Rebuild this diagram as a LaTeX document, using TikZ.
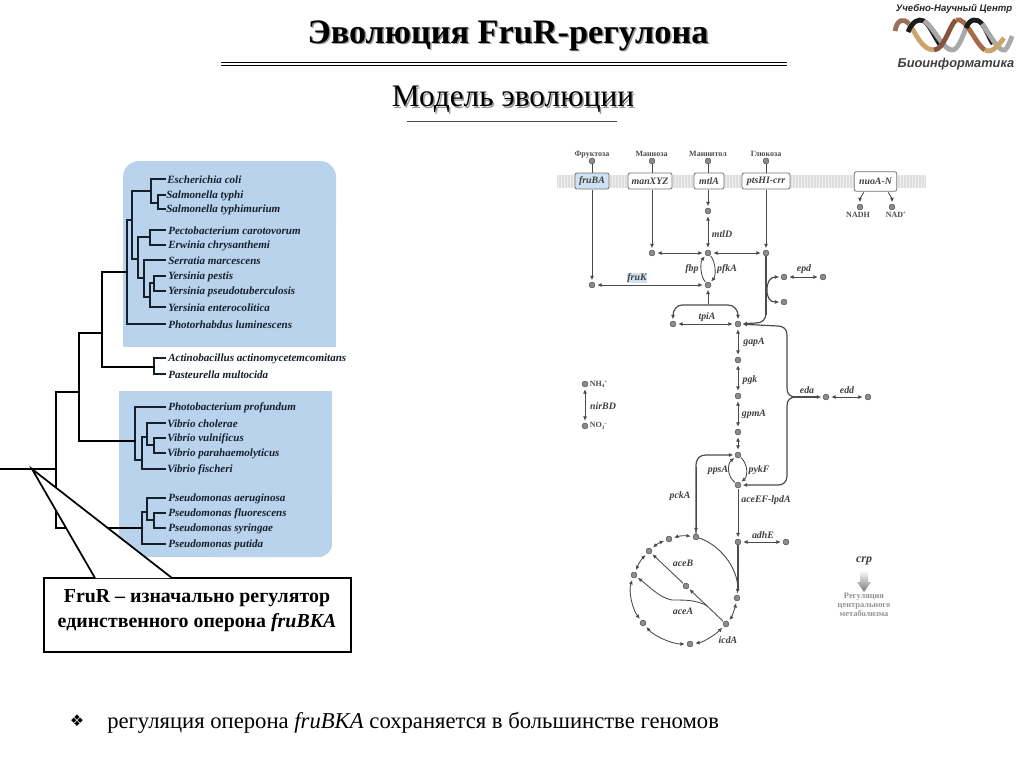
\documentclass[tikz,border=0pt]{standalone}
\usepackage{fontspec}
\setmainfont{Liberation Serif}
\newfontfamily\logofont{Liberation Sans}
\newfontfamily\symfont{DejaVu Sans}
\usetikzlibrary{arrows.meta,shapes.geometric,shadings}
\definecolor{panelblue}{HTML}{B9D3EC}
\definecolor{ink}{HTML}{16202C}
\definecolor{path}{HTML}{4A4A4A}
\definecolor{pale}{HTML}{DEDEDE}
\definecolor{paler}{HTML}{EFEFEF}
\definecolor{hilite}{HTML}{CDE2F2}
\definecolor{logotan}{HTML}{C9A66E}
\definecolor{logobrown}{HTML}{A5694C}
\definecolor{logogray}{HTML}{A9A9A9}
\definecolor{logoblack}{HTML}{1C1C1C}
\newcommand{\subsup}[2]{\raisebox{-1pt}{\fontsize{3.8}{4}\selectfont #1}\raisebox{2pt}{\fontsize{3.8}{4}\selectfont #2}}
\tikzset{
  species/.style={anchor=west,inner sep=0pt,font=\fontsize{8.3}{9}\selectfont\bfseries\itshape,text=ink},
  branch/.style={draw=ink,line width=1.2pt,line cap=rect},
  trunk/.style={draw=black,line width=0.95pt,line cap=rect},
  met/.style={circle,fill=gray!90,draw=path,line width=0.35pt,inner sep=0pt,minimum size=4.4pt},
  gene/.style={inner sep=0.5pt,font=\fontsize{7.4}{8}\selectfont\bfseries\itshape,text=black!75},
  tinylab/.style={inner sep=0pt,anchor=base,font=\fontsize{6}{7}\selectfont\bfseries,text=black!70},
  prot/.style={draw=gray!90!black,line width=0.6pt,fill=white,rounded corners=1.5pt,inner sep=0pt,font=\fontsize{7.4}{8}\selectfont\bfseries\itshape,text=black!75},
  one/.style={draw=path,line width=0.65pt,-{Latex[length=3.2pt,width=3pt]},shorten >=1.2pt,shorten <=0.6pt},
  two/.style={draw=path,line width=0.65pt,{Latex[length=3.2pt,width=3pt]}-{Latex[length=3.2pt,width=3pt]},shorten >=1.6pt,shorten <=1.6pt},
  plain/.style={draw=path,line width=0.7pt},
  heavy/.style={draw=gray!60!black,line width=0.9pt},
  heavyarrow/.style={draw=gray!60!black,line width=0.9pt,-{Latex[length=3.2pt,width=3pt]},shorten >=1.2pt},
  greylab/.style={inner sep=0pt,anchor=base,font=\fontsize{6.3}{7}\selectfont\bfseries,text=gray!85},
  strand/.style={line width=3.6pt,line cap=butt}
}
\begin{document}
\begin{tikzpicture}[x=0.75pt,y=-0.75pt]
\useasboundingbox (0,0) rectangle (1024,768);
\fill[white] (0,0) rectangle (1024,768);

% titles
\node[text=gray!80,font=\fontsize{25.7}{30}\selectfont\bfseries] (titleshade) at (509.5,37) {Эволюция FruR-регулона};
\node[font=\fontsize{25.7}{30}\selectfont\bfseries] (title) at (508,35.5) {Эволюция FruR-регулона};
\draw[line width=1.3pt] (221,62.5) -- (787,62.5);
\draw[line width=0.8pt] (221,65.5) -- (787,65.5);
\node[text=gray!80,font=\fontsize{23.5}{28}\selectfont] (subshade) at (514.5,101) {Модель эволюции};
\node[font=\fontsize{23.5}{28}\selectfont] (subtitle) at (513,99.5) {Модель эволюции};
\draw[draw=black!70,line width=0.6pt] (407,121) -- (617,121);

% logo
\node[inner sep=0pt,font=\logofont\fontsize{7.2}{8}\selectfont\bfseries\itshape,text=black!85] (logotop) at (954,8.5) {Учебно-Научный Центр};
\node[inner sep=0pt,font=\logofont\fontsize{9.6}{11}\selectfont\bfseries\itshape,text=black!75] (logobot) at (956,64.5) {Биоинформатика};
\draw[strand,draw=logobrown!70!gray] (895,31) .. controls (897,19) and (904,18) .. (909,24);
\draw[strand,draw=logotan] (909,24) .. controls (915,31) and (921,50) .. (934,50);
\draw[strand,draw=logoblack] (908,32) .. controls (912,22) and (918,18) .. (924,21) .. controls (930,25) and (935,38) .. (941,46);
\draw[strand,draw=logogray] (924,21) .. controls (934,27) and (943,50) .. (952,50) .. controls (958,50) and (962,38) .. (966,28);
\draw[strand,draw=logobrown!80!black] (934,50) .. controls (944,50) and (950,24) .. (956,20);
\draw[strand,draw=logobrown] (956,20) .. controls (966,16) and (975,44) .. (985,50);
\draw[strand,draw=logoblack] (966,28) .. controls (970,18) and (977,18) .. (982,24) .. controls (987,30) and (989,38) .. (993,44);
\draw[strand,draw=logogray] (982,24) .. controls (990,34) and (998,52) .. (1005,50) .. controls (1008,47) and (1010,42) .. (1012,36);
\draw[strand,draw=logotan] (985,50) .. controls (993,54) and (999,44) .. (1004,38);

% blue panels
\fill[panelblue,rounded corners=12pt] (123,161) rectangle (336,240);
\fill[panelblue] (123,180) rectangle (336,347);
\fill[panelblue,rounded corners=10pt] (200,480) rectangle (332,557);
\fill[panelblue] (119,391) rectangle (332,510);
\fill[panelblue] (119,510) rectangle (290,557);

% species
\node[species] (s1) at (167,180) {Escherichia coli};
\node[species] (s2) at (166,196) {Salmonella typhi};
\node[species] (s3) at (166,210) {Salmonella typhimurium};
\node[species] (s4) at (168,231) {Pectobacterium carotovorum};
\node[species] (s5) at (168,246) {Erwinia chrysanthemi};
\node[species] (s6) at (168,261) {Serratia marcescens};
\node[species] (s7) at (168,277) {Yersinia pestis};
\node[species] (s8) at (168,292) {Yersinia pseudotuberculosis};
\node[species] (s9) at (168,308) {Yersinia enterocolitica};
\node[species] (s10) at (168,325) {Photorhabdus luminescens};
\node[species] (s11) at (168,359) {Actinobacillus actinomycetemcomitans};
\node[species] (s12) at (168,375) {Pasteurella multocida};
\node[species] (s13) at (168,408) {Photobacterium profundum};
\node[species] (s14) at (167,424) {Vibrio cholerae};
\node[species] (s15) at (167,439) {Vibrio vulnificus};
\node[species] (s16) at (167,454) {Vibrio parahaemolyticus};
\node[species] (s17) at (167,470) {Vibrio fischeri};
\node[species] (s18) at (168,499) {Pseudomonas aeruginosa};
\node[species] (s19) at (168,514) {Pseudomonas fluorescens};
\node[species] (s20) at (168,529) {Pseudomonas syringae};
\node[species] (s21) at (168,545) {Pseudomonas putida};

% tree: Enterobacteria
\draw[branch] (165,179) -| (151,203) -- (158,203);
\draw[branch] (165,195) -| (158,209) -- (165,209);
\draw[branch] (132,191) -- (151,191);
\draw[branch] (132,191) -- (132,259) -- (138,259);
\draw[branch] (150,230) -- (165,230) (150,230) -- (150,245) -- (165,245);
\draw[branch] (138,237) -- (150,237) (138,237) -- (138,278) -- (144,278);
\draw[branch] (144,260) -- (165,260) (144,260) -- (144,297) -- (150,297);
\draw[branch] (150,283) -- (150,307) -- (165,307) (150,283) -- (154,283);
\draw[branch] (154,276) -- (165,276) (154,276) -- (154,291) -- (165,291);
\draw[branch] (127,220) -- (132,220) (127,220) -- (127,324) -- (165,324);
% pasteurellaceae
\draw[branch] (154,358) -- (165,358) (154,358) -- (154,374) -- (165,374);
\draw[trunk] (102,367) -- (154,367);
% vibrio
\draw[branch] (135,407) -- (165,407) (135,407) -- (135,460) -- (142,460);
\draw[branch] (142,437) -- (147,437) (142,437) -- (142,469) -- (165,469);
\draw[branch] (147,423) -- (165,423) (147,423) -- (147,445) -- (154,445);
\draw[branch] (154,438) -- (165,438) (154,438) -- (154,453) -- (165,453);
% pseudomonas
\draw[branch] (142,512) -- (147,512) (142,512) -- (142,544) -- (165,544);
\draw[branch] (147,498) -- (165,498) (147,498) -- (147,520) -- (154,520);
\draw[branch] (154,513) -- (165,513) (154,513) -- (154,528) -- (165,528);
% deep branches
\draw[trunk] (127,272) -- (102,272) -- (102,367);
\draw[trunk] (102,333) -- (79,333) -- (79,441) -- (135,441);
\draw[trunk] (79,392) -- (56,392) -- (56,528) -- (142,528);
\draw[trunk] (0,469) -- (56,469);

% callout
\node[draw=black,line width=1.3pt,fill=white,minimum width=230.25pt,minimum height=55.5pt,inner sep=0pt] (callout) at (197.5,615) {};
\coordinate (apex) at (32,469);
\coordinate (cl) at (95,578);
\coordinate (cr) at (172,578);
\fill[white] (apex) -- (cl) -- (cr) -- cycle;
\draw[line width=1.3pt,line join=miter] (cl) -- (apex) -- (cr);
\node[inner sep=0pt,font=\fontsize{14.9}{18}\selectfont\bfseries] (c1) at (197,598.5) {FruR – изначально регулятор};
\node[inner sep=0pt,font=\fontsize{14.9}{18}\selectfont\bfseries] (c2) at (197,622.5) {единственного оперона \textit{fruBKA}};

% bullet text
\node[inner sep=0pt,font=\symfont\fontsize{12}{14}\selectfont] (bull) at (77,721) {❖};
\node[anchor=west,inner sep=0pt,font=\fontsize{17}{20}\selectfont] (bullet) at (107,723) {регуляция оперона \textit{fruBKA} сохраняется в большинстве геномов};

% membrane
\fill[pale] (557,175) rectangle (926,188);
\foreach \x in {558,561,...,925} \draw[paler,line width=0.75pt] (\x,175) -- (\x,188);

% metabolites
\node[met] (mFru) at (592,161) {};
\node[met] (mMan) at (652,161) {};
\node[met] (mMtl) at (708,161) {};
\node[met] (mGlc) at (766,161) {};
\node[met] (d211) at (708,211) {};
\node[met] (d253a) at (652,253) {};
\node[met] (d253b) at (708,253) {};
\node[met] (d253c) at (766,253) {};
\node[met] (d285a) at (592,285) {};
\node[met] (d285b) at (708,285) {};
\node[met] (e1) at (784,277) {};
\node[met] (e2) at (823,277) {};
\node[met] (e3) at (784,302) {};
\node[met] (t1) at (673,324) {};
\node[met] (t2) at (738,324) {};
\node[met] (g1) at (738,360) {};
\node[met] (g2) at (738,396) {};
\node[met] (g3) at (738,432) {};
\node[met] (g4) at (738,455) {};
\node[met] (g5) at (738,485) {};
\node[met] (ed1) at (826,397) {};
\node[met] (ed2) at (868,397) {};
\node[met] (nh) at (585,384) {};
\node[met] (no) at (585,426) {};
\node[met] (a1) at (738,542) {};
\node[met] (a2) at (786,542) {};
\node[met] (c0) at (696,537) {};
\node[met] (c1a) at (669,539) {};
\node[met] (c2a) at (649,551) {};
\node[met] (c3) at (634,575) {};
\node[met] (c4) at (643,623) {};
\node[met] (c5) at (690,644) {};
\node[met] (c6) at (726,624) {};
\node[met] (c7) at (737,598) {};
\node[met] (c8) at (686,586) {};
\node[met] (n1) at (860,207) {};
\node[met] (n2) at (892,207) {};

% proteins
\node[prot,fill=hilite,minimum width=25.5pt,minimum height=12pt] (fruBA) at (592,181) {fruBA};
\node[prot,minimum width=33pt,minimum height=12pt] (manXYZ) at (650,181) {manXYZ};
\node[prot,minimum width=22.5pt,minimum height=12pt] (mtlA) at (709,181) {mtlA};
\node[prot,minimum width=36pt,minimum height=12pt] (pts) at (766,181) {ptsHI-crr};
\node[prot,minimum width=32pt,minimum height=14.5pt] (nuo) at (875.5,181.5) {nuoA-N};

% top labels
\node[tinylab] (lFru) at (592,156) {Фруктоза};
\node[tinylab] (lMan) at (651.5,156) {Манноза};
\node[tinylab] (lMtl) at (708,156) {Маннитол};
\node[tinylab] (lGlc) at (766,156) {Глюкоза};
\node[tinylab] (lNADH) at (858,217) {NADH};
\node[tinylab] (lNAD) at (896,217) {NAD\raisebox{2pt}{\fontsize{3.8}{4}\selectfont +}};

% connectors upper
\draw[plain] (mFru) -- (fruBA);
\draw[plain] (mMan) -- (manXYZ.north-|mMan);
\draw[plain] (mMtl) -- (mtlA.north-|mMtl);
\draw[plain] (mGlc) -- (pts);
\draw[one] (fruBA) -- (d285a);
\draw[one] (manXYZ.south-|d253a) -- (d253a);
\draw[one] (mtlA.south-|d211) -- (d211);
\draw[one] (pts) -- (d253c);
\draw[two] (d211) -- (d253b);
\draw[two] (d253a) -- (d253b);
\draw[two] (d253b) -- (d253c);
\draw[two] (d285a) -- (d285b);
\draw[one] (d285b) .. controls (700,276) and (700,262) .. (d253b);
\draw[one] (d253b) .. controls (716,262) and (716,276) .. (d285b);
\draw[two] (e1) -- (e2);
\draw[two] (t1) -- (t2);
\draw[two] (t2) -- (g1);
\draw[two] (g1) -- (g2);
\draw[two] (g2) -- (g3);
\draw[two] (g3) -- (g4);
\draw[two] (ed1) -- (ed2);
\draw[two] (nh) -- (no);
\draw[two] (a1) -- (a2);
\node[gene,fill=hilite] (lfruK) at (637,278) {fruK};

% nuo arcs
\draw[one] (nuo.south-|864,0) .. controls (863,195) and (860,197) .. (n1);
\draw[one] (nuo.south-|888,0) .. controls (889,195) and (892,197) .. (n2);

% tpiA brace
\coordinate (tb) at (708,305);
\draw[one] (tb) -- (d285b);
\draw[heavyarrow] (tb) -- (682,305) .. controls (677,305) and (673,310) .. (t1);
\draw[heavyarrow] (tb) -- (728,305) .. controls (734,305) and (738,310) .. (t2);
% glucose to triose
\draw[heavy] (d253c) -- (766,315);
\draw[heavyarrow] (766,312) .. controls (766,320) and (762,323) .. (756,323) -- (t2);
% epd fork
\coordinate (fk) at (767,290);
\draw[heavyarrow] (fk) .. controls (767,282) and (770,277) .. (e1);
\draw[heavyarrow] (fk) .. controls (767,298) and (770,302) .. (e3);

% eda
\coordinate (edaT) at (796,397);
\draw[heavyarrow] (edaT) -- (ed1);
\draw[heavyarrow] (edaT) .. controls (790,397) and (787,394) .. (787,388) -- (787,335) .. controls (787,329) and (783,326) .. (778,326) -- (t2);
\draw[heavyarrow] (edaT) .. controls (790,397) and (787,400) .. (787,406) -- (787,476) .. controls (787,482) and (783,485) .. (778,485) -- (g5);

% ppsA/pykF
\draw[one] (g5) .. controls (727,476) and (727,464) .. (g4);
\draw[one] (g4) .. controls (748,464) and (748,476) .. (g5);

% pckA
\draw[heavyarrow] (c0) -- (696,466) .. controls (696,458) and (700,455) .. (706,455) -- (g4);
\draw[one] (696,466) -- (c0);

% lower
\draw[one] (g5) -- (a1);
\draw[heavy] (a1) -- (738,590);
\draw[one] (738,585) -- (c7);
\draw[plain] (c0) .. controls (718,544) and (738,566) .. (738,590);

% cycle
\draw[two] (c0) to[bend right=12] (c1a);
\draw[two] (c1a) to[bend right=10] (c2a);
\draw[two] (c2a) to[bend right=10] (c3);
\draw[two] (c3) .. controls (628,592) and (633,610) .. (c4);
\draw[two] (c4) .. controls (654,636) and (672,644) .. (c5);
\draw[two] (c5) .. controls (704,642) and (716,634) .. (c6);
\draw[two] (c6) .. controls (731,618) and (735,608) .. (c7);
\draw[one] (c6) -- (c8);
\draw[one] (c8) -- (c2a);
\draw[one] (708,606) .. controls (695,600) and (688,600) .. (672,600) .. controls (660,598) and (650,587) .. (c3);

% gene labels
\node[gene] (lmtlD) at (722,234) {mtlD};
\node[gene] (lfbp) at (692,269) {fbp};
\node[gene] (lpfkA) at (727,269) {pfkA};
\node[gene] (lepd) at (804,269) {epd};
\node[gene] (ltpiA) at (707,317) {tpiA};
\node[gene] (lgapA) at (754,342) {gapA};
\node[gene] (lpgk) at (750,380) {pgk};
\node[gene] (lgpmA) at (754,414) {gpmA};
\node[gene] (leda) at (807,390) {eda};
\node[gene] (ledd) at (847,390) {edd};
\node[gene] (lnir) at (603,406) {nirBD};
\node[gene] (lpps) at (718,470) {ppsA};
\node[gene] (lpyk) at (759,470) {pykF};
\node[gene] (lpck) at (680,496) {pckA};
\node[gene] (lace) at (766,500) {aceEF-lpdA};
\node[gene] (ladh) at (763,535) {adhE};
\node[gene] (lacB) at (683,563) {aceB};
\node[gene] (lacA) at (683,611) {aceA};
\node[gene] (licd) at (728,640) {icdA};
\node[anchor=west,inner sep=0.5pt,font=\fontsize{6}{7}\selectfont\bfseries,text=black!70] (lnh) at (589,384) {NH\subsup{4}{+}};
\node[anchor=west,inner sep=0.5pt,font=\fontsize{6}{7}\selectfont\bfseries,text=black!70] (lno) at (589,426) {NO\subsup{3}{–}};

% crp
\node[gene,font=\fontsize{9}{10}\selectfont\bfseries\itshape] (lcrp) at (864,561) {crp};
\shade[top color=white,bottom color=gray!95!black,shading angle=0] (860,570) -- (868,570) -- (868,582) -- (871,582) -- (864,592) -- (857,582) -- (860,582) -- cycle;
\node[greylab] (r1) at (864,598.5) {Регуляция};
\node[greylab] (r2) at (864,607.5) {центрального};
\node[greylab] (r3) at (864,616.5) {метаболизма};
\end{tikzpicture}
\end{document}
